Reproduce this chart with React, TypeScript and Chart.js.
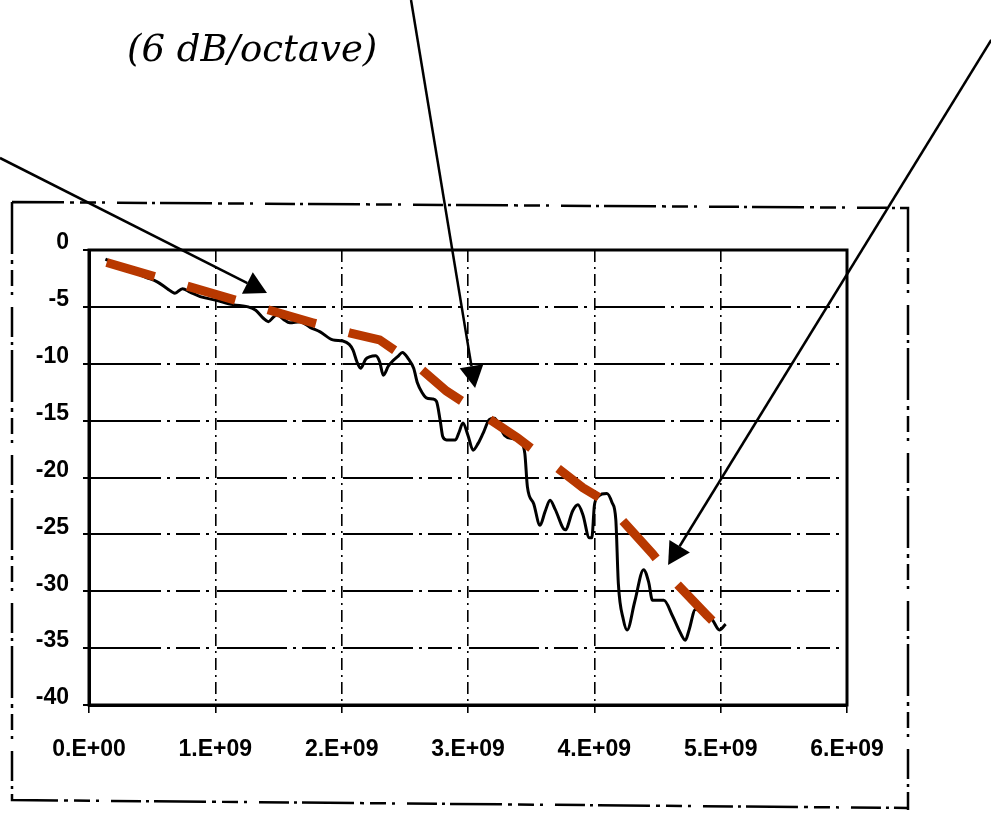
import React, { useEffect, useRef } from 'react';
import { Chart, registerables } from 'chart.js';

Chart.register(...registerables);

// Measured insertion loss (frequency in GHz, loss in dB)
const measuredGHz = [
  0.13, 0.25, 0.35, 0.45, 0.54, 0.62, 0.68, 0.74, 0.8, 0.88, 1.0, 1.14, 1.26, 1.32, 1.38, 1.42, 1.46, 1.49, 1.54, 1.59,
  1.67, 1.75, 1.83, 1.93, 2.01, 2.06, 2.09, 2.12, 2.15, 2.19, 2.22, 2.27, 2.3, 2.33, 2.37, 2.4, 2.45, 2.48, 2.53, 2.57,
  2.6, 2.64, 2.67, 2.72, 2.75, 2.78, 2.8, 2.83, 2.9, 2.93, 2.96, 3.0, 3.04, 3.08, 3.12, 3.17, 3.21, 3.25, 3.29, 3.36,
  3.42, 3.45, 3.47, 3.52, 3.57, 3.61, 3.65, 3.69, 3.77, 3.83, 3.87, 3.91, 3.96, 3.98, 4.0, 4.02, 4.1, 4.14, 4.17, 4.19,
  4.23, 4.26, 4.32, 4.39, 4.43, 4.46, 4.55, 4.62, 4.67, 4.72, 4.75, 4.8, 4.89, 4.94, 4.99, 5.04,
];
const measuredDb = [
  -0.8, -1.4, -1.9, -2.4, -2.8, -3.4, -3.8, -3.4, -3.7, -4.1, -4.4, -4.8, -5.0, -5.3, -6.0, -6.3, -5.9, -5.7, -6.1, -6.4,
  -6.3, -6.8, -7.2, -7.9, -8.0, -8.3, -8.8, -9.8, -10.4, -9.6, -9.4, -9.3, -9.8, -11.0, -10.2, -9.8, -9.3, -9.0, -9.6, -10.4,
  -11.7, -12.6, -13.0, -13.1, -13.3, -15.0, -16.4, -16.7, -16.7, -16.0, -15.2, -16.3, -17.6, -17.0, -16.1, -14.9, -14.8, -15.5, -16.3, -16.6,
  -16.9, -17.9, -20.8, -22.3, -24.2, -23.0, -22.0, -22.8, -24.6, -22.9, -22.4, -23.3, -25.3, -25.3, -22.5, -21.8, -21.4, -22.2, -23.7, -29.3,
  -32.5, -33.4, -30.9, -28.1, -29.2, -30.8, -30.8, -32.2, -33.4, -34.3, -33.4, -31.6, -31.8, -32.6, -33.4, -32.9,
];

// Trend line (6 dB/octave), dashed
const trendGHz = [0.14, 1.77, 2.07, 2.3, 2.6, 2.83, 3.16, 3.39, 3.7, 3.91, 4.09, 4.19, 4.46, 4.64, 4.89, 5.06];
const trendDb = [-1.1, -6.4, -7.3, -7.9, -10.2, -12.4, -14.8, -16.5, -19.1, -20.9, -22.1, -23.4, -26.7, -29.2, -32.1, -34.0];

// Axis tick labels
const xTickLabels = ['0.E+00', '1.E+09', '2.E+09', '3.E+09', '4.E+09', '5.E+09', '6.E+09'];
const yTickLabels = ['-40', '-35', '-30', '-25', '-20', '-15', '-10', '-5', '0'];

// Annotation text and arrows (tail -> tip, in data units: Hz, dB)
const annotationText = '(6 dB/octave)';
const arrowTailHz = [-0.705e9, 2.549e9, 7.142e9];
const arrowTailDb = [8.09, 21.98, 18.46];
const arrowTipHz = [1.409e9, 3.056e9, 4.584e9];
const arrowTipDb = [-3.78, -12.13, -27.69];

const scanPlugin = {
  id: 'scanAnnotations',
  afterDraw(chart: any) {
    const ctx: CanvasRenderingContext2D = chart.ctx;
    const a = chart.chartArea;
    const xs = chart.scales.x;
    const ys = chart.scales.y;
    ctx.save();
    // plot frame
    ctx.strokeStyle = '#000';
    ctx.lineWidth = 3;
    ctx.setLineDash([]);
    ctx.strokeRect(a.left, a.top, a.right - a.left, a.bottom - a.top);

    // outer dashed frame of the scanned figure
    ctx.lineWidth = 2.5;
    ctx.setLineDash([52, 6, 4, 6, 16, 6, 3, 12, 30, 5, 3, 5]);
    ctx.beginPath();
    ctx.moveTo(12, 202);
    ctx.lineTo(908, 208);
    ctx.lineTo(908, 810);
    ctx.moveTo(12, 202);
    ctx.lineTo(12, 800);
    ctx.lineTo(908, 808);
    ctx.stroke();

    // annotation text
    ctx.setLineDash([]);
    ctx.fillStyle = '#000';
    ctx.font = 'italic 37px "DejaVu Serif", serif';
    ctx.textBaseline = 'alphabetic';
    ctx.textAlign = 'left';
    ctx.fillText(annotationText, 127, 61);

    // arrows
    ctx.lineWidth = 2.5;
    for (let i = 0; i < arrowTipHz.length; i++) {
      const x1 = xs.getPixelForValue(arrowTailHz[i]);
      const y1 = ys.getPixelForValue(arrowTailDb[i]);
      const x2 = xs.getPixelForValue(arrowTipHz[i]);
      const y2 = ys.getPixelForValue(arrowTipDb[i]);
      const ang = Math.atan2(y2 - y1, x2 - x1);
      const len = 22;
      const hw = 12;
      const bx = x2 - len * Math.cos(ang);
      const by = y2 - len * Math.sin(ang);
      ctx.beginPath();
      ctx.moveTo(x1, y1);
      ctx.lineTo(bx, by);
      ctx.stroke();
      ctx.beginPath();
      ctx.moveTo(x2, y2);
      ctx.lineTo(bx + hw * Math.sin(ang), by - hw * Math.cos(ang));
      ctx.lineTo(bx - hw * Math.sin(ang), by + hw * Math.cos(ang));
      ctx.closePath();
      ctx.fill();
    }
    ctx.restore();
  },
};

export default function App() {
  const canvasRef = useRef<HTMLCanvasElement | null>(null);

  useEffect(() => {
    const canvas = canvasRef.current;
    if (!canvas) return;
    const measured = measuredGHz.map((f, i) => ({ x: f * 1e9, y: measuredDb[i] }));
    const trend = trendGHz.map((f, i) => ({ x: f * 1e9, y: trendDb[i] }));
    const tickFont = { family: '"Liberation Sans", Arial, sans-serif', size: 23, weight: 'bold' as const };

    const chart = new Chart(canvas, {
      type: 'line',
      data: {
        datasets: [
          {
            label: 'Measured',
            data: measured,
            borderColor: '#000',
            borderWidth: 3,
            pointRadius: 0,
            cubicInterpolationMode: 'monotone',
            fill: false,
            order: 2,
          },
          {
            label: '6 dB/octave',
            data: trend,
            borderColor: '#b83800',
            borderWidth: 9,
            borderDash: [50, 34],
            borderCapStyle: 'butt',
            pointRadius: 0,
            tension: 0,
            fill: false,
            order: 1,
          },
        ],
      },
      options: {
        responsive: false,
        animation: false,
        devicePixelRatio: 1,
        layout: { padding: { top: 250, right: 144, left: 0, bottom: 0 } },
        plugins: {
          legend: { display: false },
          tooltip: { enabled: false },
          title: { display: false },
        },
        scales: {
          x: {
            type: 'linear',
            min: 0,
            max: 6e9,
            afterFit: (scale: any) => {
              scale.height = 109;
            },
            afterBuildTicks: (scale: any) => {
              scale.ticks = xTickLabels.map((_, i) => ({ value: i * 1e9 }));
            },
            ticks: {
              color: '#000',
              font: tickFont,
              padding: 23,
              maxRotation: 0,
              autoSkip: false,
              callback: (_v: any, i: number) => xTickLabels[i],
            },
            grid: {
              color: '#000',
              lineWidth: 1.6,
              tickLength: 8,
              drawTicks: true,
            },
            border: { display: true, color: '#000', width: 3, dash: [12, 5, 2, 5] },
          },
          y: {
            type: 'linear',
            min: -40,
            max: 0,
            afterFit: (scale: any) => {
              scale.width = 89;
            },
            afterBuildTicks: (scale: any) => {
              scale.ticks = yTickLabels.map((l) => ({ value: Number(l) }));
            },
            ticks: {
              color: '#000',
              font: tickFont,
              padding: 14,
              labelOffset: -7,
              autoSkip: false,
              callback: (_v: any, i: number) => yTickLabels[i],
            },
            grid: {
              color: '#000',
              lineWidth: 2,
              tickLength: 6,
              drawTicks: true,
            },
            border: { display: true, color: '#000', width: 3, dash: [70, 6, 3, 6, 24, 6, 3, 8] },
          },
        },
      },
      plugins: [scanPlugin],
    });
    return () => chart.destroy();
  }, []);

  return (
    <div style={{ position: 'fixed', left: 0, top: 0, width: 991, height: 814, background: '#fff' }}>
      <canvas ref={canvasRef} width={991} height={814} style={{ display: 'block', width: 991, height: 814 }} />
    </div>
  );
}
